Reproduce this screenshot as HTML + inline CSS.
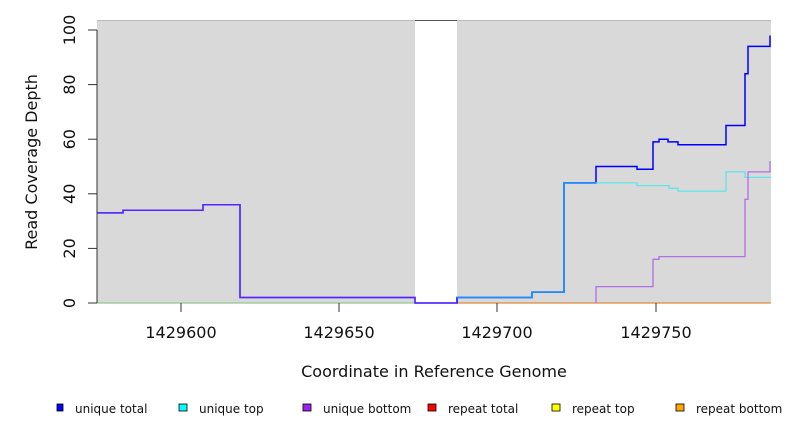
<!DOCTYPE html>
<html><head><meta charset="utf-8"><style>
body{margin:0;background:#fff;width:792px;height:432px;overflow:hidden}
svg{display:block;font-family:"DejaVu Sans","Liberation Sans",sans-serif}
</style></head><body>
<svg width="792" height="432" viewBox="0 0 792 432">
<rect x="97" y="20" width="674" height="283" fill="#d9d9d9"/>
<rect x="415" y="20" width="42" height="283" fill="#fff"/>
<line x1="415" y1="20.5" x2="457" y2="20.5" stroke="#555" stroke-width="1"/>
<line x1="97" y1="20.5" x2="415" y2="20.5" stroke="#bbb" stroke-width="1"/>
<line x1="457" y1="20.5" x2="771" y2="20.5" stroke="#bbb" stroke-width="1"/>
<line x1="97" y1="303" x2="415" y2="303" stroke="#90c890" stroke-width="1.2"/>
<line x1="457" y1="303" x2="771" y2="303" stroke="#e08a40" stroke-width="1.2"/>
<path d="M97,212.9H123V210.2H203V204.7H240V297.5H415V303H457V297.5H532V292.1H564V182.9H596V166.5H637V169.2H653V141.9H659V139.2H668V141.9H678V144.7H726V125.5H745V73.7H748V46.4H770V35.5" fill="none" stroke="#0000ff" stroke-width="1.5"/>
<path d="M457,297.5H532V292.1H564V182.9H637V185.6H669V188.3H678V191.1H726V171.9H745V177.4H771" fill="none" stroke="#40e8f0" stroke-width="1.3" opacity="0.8"/>
<path d="M457,297.5H532V292.1H564V182.9H596" fill="none" stroke="#1a8cff" stroke-width="1.5"/>
<path d="M97,212.9H123V210.2H203V204.7H240V297.5H415V303H457" fill="none" stroke="#8a40ff" stroke-width="1.5" opacity="0.6"/>
<path d="M596,303V286.6H653V259.3H659V256.6H745V199.3H748V171.9H770V161" fill="none" stroke="#b070e8" stroke-width="1.3"/>
<line x1="97" y1="30" x2="97" y2="303" stroke="#333"/>
<g stroke="#333">
<line x1="88" y1="303" x2="97" y2="303"/><line x1="88" y1="248.4" x2="97" y2="248.4"/><line x1="88" y1="193.8" x2="97" y2="193.8"/><line x1="88" y1="139.2" x2="97" y2="139.2"/><line x1="88" y1="84.6" x2="97" y2="84.6"/><line x1="88" y1="30" x2="97" y2="30"/>
<line x1="181" y1="303" x2="181" y2="312"/><line x1="339" y1="303" x2="339" y2="312"/><line x1="497" y1="303" x2="497" y2="312"/><line x1="656" y1="303" x2="656" y2="312"/>
</g>
<g font-size="16" fill="#111" text-anchor="middle">
<text transform="translate(75,303) rotate(-90)">0</text>
<text transform="translate(75,248.4) rotate(-90)">20</text>
<text transform="translate(75,193.8) rotate(-90)">40</text>
<text transform="translate(75,139.2) rotate(-90)">60</text>
<text transform="translate(75,84.6) rotate(-90)">80</text>
<text transform="translate(75,30) rotate(-90)">100</text>
<text x="181" y="338">1429600</text><text x="339" y="338">1429650</text><text x="497" y="338">1429700</text><text x="656" y="338">1429750</text>
<text x="434" y="377">Coordinate in Reference Genome</text>
<text transform="translate(37,162) rotate(-90)">Read Coverage Depth</text>
</g>
<g font-size="12" fill="#111" stroke-width="0.8">
<rect x="57" y="404" width="6" height="7" fill="#0000ff" stroke="#000"/><text x="75" y="413">unique total</text>
<rect x="179" y="404" width="8" height="7" fill="#00ffff" stroke="#000"/><text x="199" y="413">unique top</text>
<rect x="303" y="404" width="8" height="7" fill="#a020f0" stroke="#000"/><text x="323" y="413">unique bottom</text>
<rect x="428" y="404" width="8" height="7" fill="#ff0000" stroke="#000"/><text x="448" y="413">repeat total</text>
<rect x="552" y="404" width="8" height="7" fill="#ffff00" stroke="#000"/><text x="572" y="413">repeat top</text>
<rect x="676" y="404" width="8" height="7" fill="#ffa500" stroke="#000"/><text x="696" y="413">repeat bottom</text>
</g>
</svg>
</body></html>
